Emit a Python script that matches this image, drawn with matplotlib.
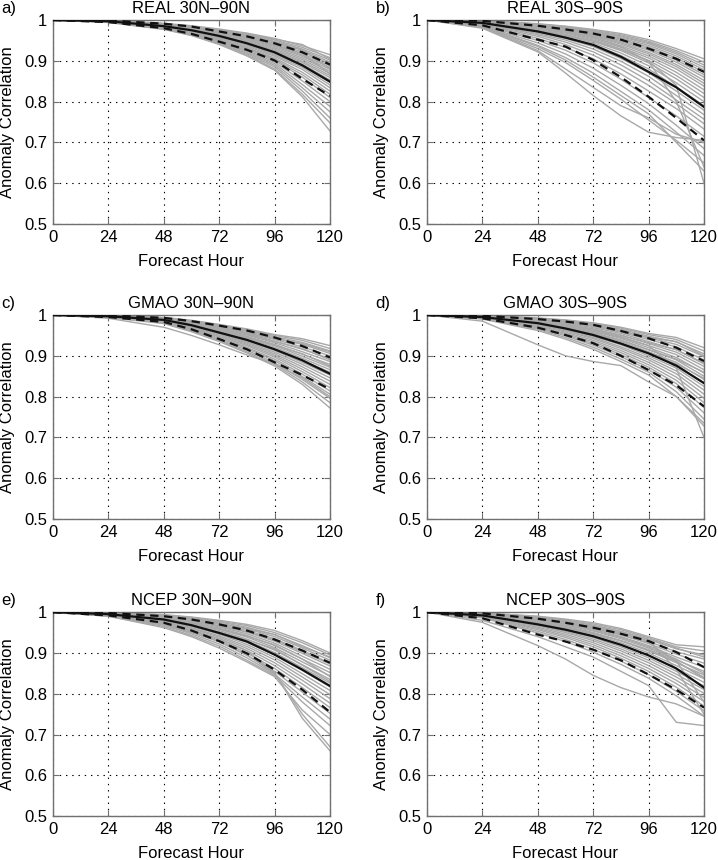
import matplotlib
matplotlib.use('Agg')
from matplotlib import pyplot as plt

plt.rcParams['font.family'] = ['Liberation Sans', 'DejaVu Sans']
plt.rcParams['font.size'] = 12
plt.rcParams['lines.scale_dashes'] = False

# Prognosetimer (h)
hours = [0, 24, 48, 60, 72, 84, 96, 108, 120]
ytick_labels = ['0.5', '0.6', '0.7', '0.8', '0.9', '1']

# a) REAL 30N-90N
real_nh_mean = [1, .997, .985, .975, .961, .943, .921, .889, .849]
real_nh_upper = [1, .999, .991, .984, .972, .960, .943, .921, .891]
real_nh_lower = [1, .995, .980, .966, .947, .927, .901, .856, .814]
real_nh_cases = [
    [1, .999, .992, .986, .978, .968, .955, .937, .915],
    [1, .999, .991, .985, .976, .965, .951, .933, .908],
    [1, .998, .991, .984, .974, .963, .948, .929, .902],
    [1, .998, .990, .983, .973, .961, .946, .926, .897],
    [1, .998, .989, .982, .971, .959, .943, .922, .893],
    [1, .998, .989, .981, .970, .957, .940, .918, .888],
    [1, .998, .988, .980, .969, .955, .938, .914, .884],
    [1, .998, .988, .979, .967, .953, .935, .911, .879],
    [1, .997, .987, .978, .966, .951, .932, .907, .874],
    [1, .997, .987, .977, .965, .949, .929, .903, .869],
    [1, .997, .986, .976, .963, .947, .926, .899, .864],
    [1, .997, .985, .975, .962, .945, .923, .896, .859],
    [1, .997, .985, .974, .961, .943, .920, .892, .853],
    [1, .997, .984, .973, .959, .941, .917, .888, .847],
    [1, .996, .984, .972, .958, .939, .914, .884, .841],
    [1, .996, .983, .971, .956, .936, .911, .879, .834],
    [1, .996, .982, .970, .954, .933, .907, .872, .826],
    [1, .996, .982, .969, .952, .931, .904, .866, .818],
    [1, .996, .981, .968, .951, .929, .901, .860, .810],
    [1, .995, .980, .967, .949, .926, .897, .851, .800],
    [1, .995, .980, .966, .948, .924, .893, .842, .788],
    [1, .995, .979, .965, .946, .921, .889, .834, .775],
    [1, .995, .978, .964, .944, .918, .885, .826, .760],
    [1, .995, .978, .963, .942, .915, .880, .818, .748],
    [1, .994, .977, .962, .940, .912, .877, .812, .728],
    [1, .998, .990, .984, .975, .966, .953, .940, .904],
    [1, .998, .988, .980, .970, .958, .946, .928, .880],
    [1, .997, .986, .977, .966, .952, .938, .918, .868],
]

# b) REAL 30S-90S
real_sh_mean = [1, .993, .972, .957, .939, .910, .873, .835, .787]
real_sh_upper = [1, .998, .986, .977, .967, .952, .930, .905, .873]
real_sh_lower = [1, .987, .952, .935, .902, .860, .812, .760, .705]
real_sh_cases = [
    [1, .999, .991, .985, .977, .967, .952, .930, .905],
    [1, .999, .990, .984, .975, .964, .948, .925, .897],
    [1, .998, .989, .983, .973, .961, .945, .921, .890],
    [1, .998, .989, .982, .972, .959, .942, .917, .884],
    [1, .998, .988, .981, .970, .956, .938, .912, .878],
    [1, .998, .987, .980, .968, .953, .934, .907, .872],
    [1, .997, .986, .978, .966, .950, .930, .902, .866],
    [1, .997, .985, .977, .964, .947, .926, .897, .860],
    [1, .997, .984, .975, .962, .944, .921, .891, .852],
    [1, .996, .983, .974, .960, .941, .917, .886, .845],
    [1, .996, .982, .972, .957, .937, .912, .880, .838],
    [1, .996, .980, .970, .954, .933, .907, .872, .829],
    [1, .995, .979, .968, .951, .929, .901, .864, .820],
    [1, .995, .977, .965, .948, .925, .895, .856, .810],
    [1, .994, .975, .962, .944, .919, .888, .846, .800],
    [1, .994, .973, .959, .940, .913, .880, .836, .790],
    [1, .993, .970, .955, .935, .906, .871, .826, .779],
    [1, .992, .967, .951, .929, .899, .862, .815, .768],
    [1, .991, .964, .946, .922, .890, .851, .804, .757],
    [1, .990, .960, .940, .914, .880, .840, .795, .746],
    [1, .989, .955, .933, .905, .868, .826, .783, .733],
    [1, .988, .950, .926, .895, .855, .810, .765, .715],
    [1, .986, .944, .917, .882, .840, .795, .742, .685],
    [1, .985, .938, .908, .870, .825, .780, .725, .668],
    [1, .983, .930, .896, .852, .806, .755, .705, .650],
    [1, .984, .935, .902, .860, .815, .770, .700, .630],
    [1, .982, .925, .880, .835, .790, .760, .720, .700],
    [1, .980, .922, .870, .815, .765, .725, .712, .705],
    [1, .993, .975, .963, .948, .928, .900, .840, .600],
    [1, .996, .983, .973, .958, .935, .898, .800, .640],
]

# c) GMAO 30N-90N
gmao_nh_mean = [1, .997, .988, .975, .957, .939, .916, .889, .856]
gmao_nh_upper = [1, .999, .993, .985, .974, .962, .945, .924, .896]
gmao_nh_lower = [1, .995, .983, .965, .941, .916, .884, .853, .818]
gmao_nh_cases = [
    [1, .999, .994, .987, .977, .966, .952, .942, .925],
    [1, .999, .993, .986, .976, .964, .950, .938, .918],
    [1, .999, .993, .985, .975, .962, .947, .933, .912],
    [1, .998, .992, .984, .973, .960, .944, .928, .906],
    [1, .998, .992, .983, .971, .957, .940, .922, .900],
    [1, .998, .991, .982, .969, .954, .936, .916, .893],
    [1, .998, .990, .980, .967, .951, .932, .910, .886],
    [1, .998, .990, .979, .965, .948, .928, .904, .879],
    [1, .997, .989, .978, .963, .946, .925, .899, .872],
    [1, .997, .988, .977, .961, .943, .921, .894, .866],
    [1, .997, .988, .976, .959, .940, .917, .889, .860],
    [1, .997, .987, .974, .957, .937, .913, .884, .853],
    [1, .997, .986, .973, .955, .934, .909, .879, .846],
    [1, .996, .986, .971, .953, .931, .905, .873, .838],
    [1, .996, .985, .970, .951, .928, .901, .867, .830],
    [1, .996, .984, .968, .948, .925, .897, .861, .822],
    [1, .996, .983, .967, .946, .921, .892, .855, .814],
    [1, .995, .982, .965, .943, .918, .888, .849, .806],
    [1, .995, .981, .963, .940, .914, .883, .842, .796],
    [1, .995, .980, .961, .938, .910, .879, .836, .785],
    [1, .994, .979, .959, .935, .907, .875, .830, .772],
    [1, .992, .970, .950, .927, .902, .880, .846, .800],
    [1, .998, .991, .981, .968, .955, .942, .930, .910],
    [1, .997, .989, .979, .966, .953, .935, .918, .890],
    [1, .997, .987, .975, .960, .944, .926, .905, .875],
]

# d) GMAO 30S-90S
gmao_sh_mean = [1, .995, .980, .967, .951, .930, .906, .876, .833]
gmao_sh_upper = [1, .998, .990, .984, .976, .961, .943, .920, .887]
gmao_sh_lower = [1, .992, .969, .951, .931, .900, .865, .828, .776]
gmao_sh_cases = [
    [1, .999, .993, .988, .981, .970, .955, .945, .920],
    [1, .999, .992, .987, .979, .968, .952, .940, .912],
    [1, .998, .991, .985, .977, .965, .948, .934, .905],
    [1, .998, .990, .984, .975, .962, .944, .928, .898],
    [1, .998, .989, .982, .972, .958, .940, .922, .890],
    [1, .997, .988, .980, .969, .955, .935, .915, .882],
    [1, .997, .987, .978, .966, .951, .930, .909, .874],
    [1, .997, .985, .976, .963, .947, .925, .903, .866],
    [1, .996, .984, .974, .960, .943, .920, .896, .858],
    [1, .996, .983, .972, .957, .939, .915, .890, .850],
    [1, .996, .982, .970, .954, .935, .910, .884, .842],
    [1, .995, .980, .968, .951, .931, .905, .877, .834],
    [1, .995, .979, .966, .948, .927, .900, .870, .825],
    [1, .995, .977, .963, .945, .922, .895, .863, .816],
    [1, .994, .976, .961, .942, .918, .890, .856, .806],
    [1, .994, .974, .958, .938, .913, .884, .848, .796],
    [1, .993, .972, .955, .934, .908, .878, .840, .785],
    [1, .993, .970, .952, .930, .903, .872, .832, .773],
    [1, .992, .968, .949, .926, .898, .866, .823, .760],
    [1, .991, .965, .945, .921, .892, .860, .812, .745],
    [1, .990, .962, .941, .916, .886, .853, .800, .728],
    [1, .996, .983, .973, .960, .945, .925, .870, .700],
    [1, .985, .927, .900, .886, .876, .836, .800, .735],
    [1, .998, .990, .983, .973, .960, .945, .935, .900],
    [1, .997, .986, .977, .965, .950, .932, .915, .880],
    [1, .995, .981, .969, .955, .938, .915, .892, .860],
    [1, .994, .978, .965, .950, .930, .908, .880, .845],
]

# e) NCEP 30N-90N
ncep_nh_mean = [1, .995, .982, .968, .949, .928, .896, .859, .819]
ncep_nh_upper = [1, .998, .990, .982, .970, .955, .933, .906, .876]
ncep_nh_lower = [1, .992, .974, .955, .929, .899, .859, .810, .755]
ncep_nh_cases = [
    [1, .999, .994, .988, .980, .970, .955, .930, .900],
    [1, .998, .993, .987, .978, .967, .950, .925, .895],
    [1, .998, .992, .985, .976, .963, .945, .918, .888],
    [1, .998, .991, .983, .973, .959, .940, .912, .882],
    [1, .997, .989, .981, .970, .955, .935, .906, .875],
    [1, .997, .988, .979, .967, .951, .929, .899, .868],
    [1, .997, .987, .977, .964, .947, .924, .892, .860],
    [1, .996, .986, .975, .961, .943, .918, .885, .852],
    [1, .996, .985, .973, .958, .939, .913, .878, .844],
    [1, .996, .983, .971, .955, .934, .907, .871, .835],
    [1, .995, .982, .969, .952, .930, .901, .864, .826],
    [1, .995, .981, .967, .949, .926, .895, .857, .817],
    [1, .995, .979, .965, .946, .921, .889, .849, .808],
    [1, .994, .978, .962, .942, .916, .883, .841, .798],
    [1, .994, .976, .960, .939, .911, .876, .833, .788],
    [1, .993, .974, .957, .935, .906, .869, .824, .777],
    [1, .993, .972, .954, .931, .900, .862, .815, .766],
    [1, .992, .970, .951, .927, .894, .855, .804, .752],
    [1, .991, .968, .947, .922, .888, .848, .792, .738],
    [1, .990, .965, .943, .917, .882, .845, .780, .722],
    [1, .990, .962, .940, .912, .878, .842, .760, .700],
    [1, .992, .970, .950, .930, .895, .850, .750, .670],
    [1, .993, .973, .955, .935, .905, .852, .740, .660],
    [1, .998, .990, .982, .972, .960, .945, .915, .890],
    [1, .997, .987, .978, .966, .952, .932, .903, .873],
    [1, .996, .984, .973, .959, .941, .920, .885, .842],
    [1, .995, .980, .966, .950, .932, .910, .870, .830],
]

# f) NCEP 30S-90S
ncep_sh_mean = [1, .992, .970, .957, .941, .920, .894, .862, .815]
ncep_sh_upper = [1, .997, .984, .974, .962, .947, .929, .902, .865]
ncep_sh_lower = [1, .985, .945, .928, .908, .882, .847, .810, .766]
ncep_sh_cases = [
    [1, .998, .990, .983, .974, .960, .940, .920, .915],
    [1, .998, .989, .981, .971, .957, .937, .915, .905],
    [1, .997, .987, .979, .968, .953, .933, .910, .895],
    [1, .997, .985, .976, .965, .949, .928, .903, .885],
    [1, .996, .983, .974, .962, .945, .923, .897, .875],
    [1, .996, .981, .971, .958, .940, .918, .890, .865],
    [1, .995, .979, .968, .954, .935, .912, .883, .855],
    [1, .994, .977, .965, .950, .930, .906, .876, .846],
    [1, .994, .975, .962, .946, .925, .900, .869, .837],
    [1, .993, .973, .959, .942, .920, .894, .862, .828],
    [1, .992, .970, .956, .938, .915, .888, .855, .819],
    [1, .992, .968, .953, .934, .910, .882, .848, .810],
    [1, .991, .966, .950, .930, .905, .876, .841, .801],
    [1, .990, .963, .946, .925, .899, .869, .833, .791],
    [1, .989, .960, .942, .920, .893, .862, .825, .781],
    [1, .988, .957, .938, .915, .887, .855, .816, .770],
    [1, .987, .953, .933, .909, .880, .847, .806, .758],
    [1, .986, .949, .928, .902, .872, .838, .795, .745],
    [1, .975, .918, .885, .845, .815, .792, .775, .745],
    [1, .980, .940, .915, .890, .855, .820, .730, .722],
    [1, .996, .983, .972, .960, .944, .925, .880, .780],
    [1, .997, .986, .975, .963, .948, .930, .860, .750],
    [1, .995, .980, .968, .955, .938, .915, .885, .850],
    [1, .993, .975, .962, .948, .930, .905, .878, .840],
    [1, .997, .987, .978, .967, .952, .934, .912, .890],
    [1, .994, .977, .964, .949, .930, .908, .880, .838],
]

panels = [
    ('a)', 'REAL 30N–90N', real_nh_cases, real_nh_mean, real_nh_upper, real_nh_lower),
    ('b)', 'REAL 30S–90S', real_sh_cases, real_sh_mean, real_sh_upper, real_sh_lower),
    ('c)', 'GMAO 30N–90N', gmao_nh_cases, gmao_nh_mean, gmao_nh_upper, gmao_nh_lower),
    ('d)', 'GMAO 30S–90S', gmao_sh_cases, gmao_sh_mean, gmao_sh_upper, gmao_sh_lower),
    ('e)', 'NCEP 30N–90N', ncep_nh_cases, ncep_nh_mean, ncep_nh_upper, ncep_nh_lower),
    ('f)', 'NCEP 30S–90S', ncep_sh_cases, ncep_sh_mean, ncep_sh_upper, ncep_sh_lower),
]

fig = plt.figure(figsize=(7.18, 8.6), dpi=100)

# plassering av aksene (figurbrøk)
lefts = [0.0738, 0.5947]
bottoms = [0.7395, 0.3965, 0.051]
width, height = 0.3858, 0.2372

spine_farge = '#707070'
for i, (bokstav, tittel, cases, mean, upper, lower) in enumerate(panels):
    ax = fig.add_axes([lefts[i % 2], bottoms[i // 2], width, height])
    for case in cases:
        ax.plot(hours, case, color='#a8a8a8', lw=1.0, zorder=2)
    ax.plot(hours, upper, color='#111111', lw=1.6, dashes=(6, 4), zorder=3)
    ax.plot(hours, lower, color='#111111', lw=1.6, dashes=(6, 4), zorder=3)
    ax.plot(hours, mean, color='#111111', lw=1.6, zorder=4)

    ax.set_xlim(0, 120)
    ax.set_ylim(0.5, 1)
    ax.set_xticks(range(0, 121, 24))
    ax.set_yticks([0.5, 0.6, 0.7, 0.8, 0.9, 1.0])
    ax.set_yticklabels(ytick_labels)
    ax.grid(True, color='k', linestyle=(0, (1, 3.5)), lw=0.8)
    ax.tick_params(direction='in', top=True, right=True, length=4,
                   width=0.8, color=spine_farge, labelsize=12, pad=4)
    for s in ax.spines.values():
        s.set_color(spine_farge)
        s.set_linewidth(1.0)

    ax.set_title(tittel, fontsize=12, pad=5)
    ax.set_xlabel('Forecast Hour', fontsize=12)
    ax.set_ylabel('Anomaly Correlation', fontsize=12)
    ax.xaxis.set_label_coords(0.5, -0.145)
    ax.yaxis.set_label_coords(-0.137, 0.5)
    ax.text(-0.185, 1.035, bokstav, transform=ax.transAxes, fontsize=12,
            va='baseline', ha='left')

fig.savefig('out.png', dpi=100)
